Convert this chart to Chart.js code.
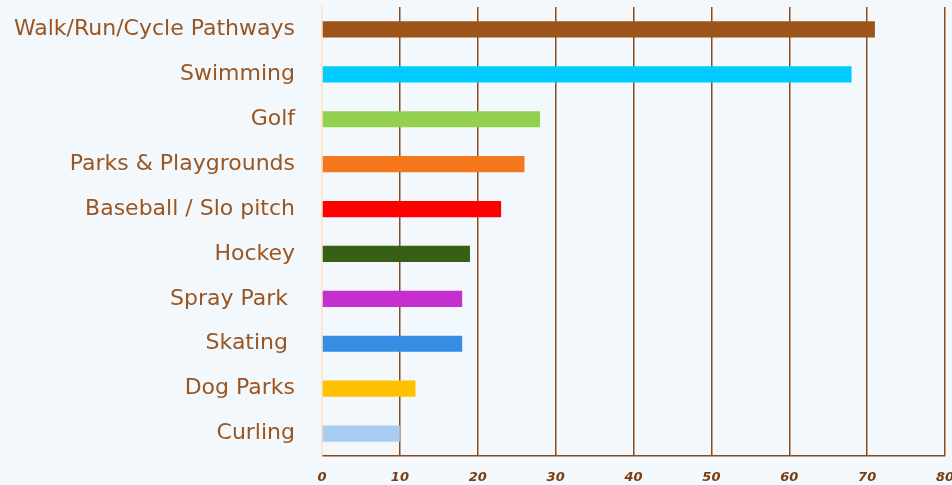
<!DOCTYPE html>
<html>
<head>
<meta charset="utf-8">
<script src="https://cdn.jsdelivr.net/npm/chart.js@4"></script>
<style>
    html, body { margin: 0; padding: 0; background: #f3f8fc; }
    #wrap { width: 952px; height: 485px; }
</style>
</head>
<body>
<div id="wrap"><canvas id="usageChart"></canvas></div>
<script>
const activities = ['Walk/Run/Cycle Pathways', 'Swimming', 'Golf', 'Parks & Playgrounds', 'Baseball / Slo pitch',
    'Hockey', 'Spray Park ', 'Skating ', 'Dog Parks', 'Curling'];
const usage = [71, 68, 28, 26, 23, 19, 18, 18, 12, 10];
const barColors = ['#9c5418', '#00ccff', '#92d050', '#f4771c', '#ff0000',
    '#375f15', '#c52ecf', '#358ee4', '#ffc000', '#a8cdf0'];
const xTicks = [0, 10, 20, 30, 40, 50, 60, 70, 80];

new Chart(document.getElementById('usageChart'), {
    type: 'bar',
    data: {
        labels: activities,
        datasets: [{
            data: usage,
            backgroundColor: barColors,
            borderWidth: 0,
            barPercentage: 0.36,
            categoryPercentage: 1
        }]
    },
    options: {
        indexAxis: 'y',
        responsive: true,
        maintainAspectRatio: false,
        animation: false,
        layout: { padding: { top: 7, right: 7, bottom: 0, left: 0 } },
        plugins: { legend: { display: false }, tooltip: { enabled: false } },
        scales: {
            x: {
                min: 0,
                max: 80,
                afterBuildTicks: (s) => { s.ticks = xTicks.map(v => ({ value: v })); },
                afterFit: (s) => {
                    s.height = 29;
                    s.paddingLeft = 0;
                    s.paddingRight = 0;
                },
                grid: {
                    color: (c) => c.tick && c.tick.value === 0 ? '#fde3c8' : '#8b4a1a',
                    lineWidth: 1.5,
                    drawTicks: false
                },
                border: { color: '#8b4a1a', width: 1.5 },
                ticks: {
                    padding: 14,
                    color: '#7a3e10',
                    font: { family: 'DejaVu Sans', size: 13, style: 'italic', weight: 'bold' }
                }
            },
            y: {
                afterFit: (s) => {
                    s.width = 322;
                    s.paddingTop = 0;
                    s.paddingBottom = 0;
                },
                grid: { display: false, drawTicks: false },
                border: { color: '#fde3c8', width: 1.5 },
                ticks: {
                    padding: 27,
                    color: '#9a5520',
                    font: { family: 'DejaVu Sans', size: 22 }
                }
            }
        }
    }
});
</script>
</body>
</html>
